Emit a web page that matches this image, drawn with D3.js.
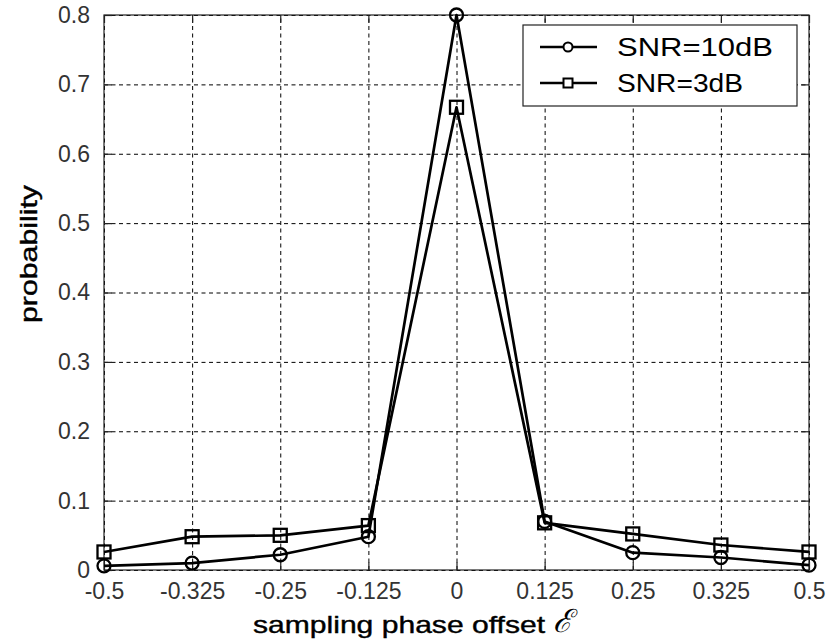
<!DOCTYPE html>
<html>
<head>
<meta charset="utf-8">
<script src="https://cdn.jsdelivr.net/npm/d3@7"></script>
<style>
  html, body { margin: 0; padding: 0; background: #fff; }
  svg { display: block; }
  text { font-family: "Liberation Sans", Arial, sans-serif; }
</style>
</head>
<body>
<svg id="chart" width="827" height="642"></svg>
<script>
// Sampling phase offsets (evenly spaced categories on the x axis)
const offsets = ["-0.5", "-0.325", "-0.25", "-0.125", "0", "0.125", "0.25", "0.325", "0.5"];
// Detection probability for each offset
const snr10 = [0.006, 0.010, 0.022, 0.048, 0.800, 0.070, 0.025, 0.018, 0.007];
const snr3  = [0.026, 0.048, 0.050, 0.064, 0.667, 0.068, 0.052, 0.036, 0.026];
const seriesNames = ["SNR=10dB", "SNR=3dB"];
const yTicks = [0, 0.1, 0.2, 0.3, 0.4, 0.5, 0.6, 0.7, 0.8];

const svg = d3.select("#chart");
const L = 104, R = 809, T = 15, B = 570;

const x = d3.scalePoint().domain(offsets).range([L, R]);
const y = d3.scaleLinear().domain([0, 0.8]).range([B, T]);

// dashed grid
const grid = svg.append("g");
grid.append("g")
  .attr("transform", `translate(0,${B})`)
  .call(d3.axisBottom(x).tickSize(-(B - T)).tickFormat(""))
  .call(g => g.select(".domain").remove())
  .call(g => g.selectAll("line").attr("stroke", "#000").attr("stroke-dasharray", "4,3.5"));
grid.append("g")
  .attr("transform", `translate(${L},0)`)
  .call(d3.axisLeft(y).tickValues(yTicks).tickSize(-(R - L)).tickFormat(""))
  .call(g => g.select(".domain").remove())
  .call(g => g.selectAll("line").attr("stroke", "#000").attr("stroke-dasharray", "4,3.5"));

// frame
svg.append("rect")
  .attr("x", L).attr("y", T).attr("width", R - L).attr("height", B - T)
  .attr("fill", "none").attr("stroke", "#222").attr("stroke-width", 1.2);

// inward ticks on all sides, labels on bottom and left
const tk = 8;
const styleAxis = g => {
  g.select(".domain").remove();
  g.selectAll("line").attr("stroke", "#222").attr("stroke-width", 1.2);
  g.selectAll("text").attr("fill", "#333").style("font-size", "23px")
    .style("font-family", "'Liberation Sans', Arial, sans-serif");
};
svg.append("g").attr("transform", `translate(0,${B})`)
  .call(d3.axisBottom(x).tickSizeInner(-tk).tickSizeOuter(0).tickPadding(13))
  .call(styleAxis);
svg.append("g").attr("transform", `translate(0,${T})`)
  .call(d3.axisTop(x).tickSizeInner(-tk).tickSizeOuter(0).tickFormat(""))
  .call(styleAxis);
svg.append("g").attr("transform", `translate(${L},0)`)
  .call(d3.axisLeft(y).tickValues(yTicks).tickSizeInner(-tk).tickSizeOuter(0).tickPadding(14)
    .tickFormat(d => d === 0 ? "0" : d3.format(".1f")(d)))
  .call(styleAxis);
svg.append("g").attr("transform", `translate(${R},0)`)
  .call(d3.axisRight(y).tickValues(yTicks).tickSizeInner(-tk).tickSizeOuter(0).tickFormat(""))
  .call(styleAxis);

// data series
const line = d3.line().x((d, i) => x(offsets[i])).y(d => y(d));
const drawSeries = (vals, shape) => {
  const g = svg.append("g");
  g.append("path").datum(vals).attr("d", line)
    .attr("fill", "none").attr("stroke", "#000").attr("stroke-width", 2.7).attr("stroke-linejoin", "round");
  if (shape === "circle") {
    g.selectAll("circle").data(vals).join("circle")
      .attr("cx", (d, i) => x(offsets[i])).attr("cy", d => y(d)).attr("r", 6.5)
      .attr("fill", "none").attr("stroke", "#000").attr("stroke-width", 2.3);
  } else {
    const s = 13;
    g.selectAll("rect").data(vals).join("rect")
      .attr("x", (d, i) => x(offsets[i]) - s / 2).attr("y", d => y(d) - s / 2)
      .attr("width", s).attr("height", s)
      .attr("fill", "none").attr("stroke", "#000").attr("stroke-width", 2.3);
  }
};
drawSeries(snr10, "circle");
drawSeries(snr3, "square");

// legend
const lg = svg.append("g");
lg.append("rect").attr("x", 523).attr("y", 25).attr("width", 274).attr("height", 81)
  .attr("fill", "#fff").attr("stroke", "#222").attr("stroke-width", 1.2);
seriesNames.forEach((name, i) => {
  const cy = 47 + i * 36;
  lg.append("line").attr("x1", 540).attr("x2", 597).attr("y1", cy).attr("y2", cy)
    .attr("stroke", "#000").attr("stroke-width", 2.6);
  if (i === 0) {
    lg.append("circle").attr("cx", 568).attr("cy", cy).attr("r", 4.5)
      .attr("fill", "#fff").attr("stroke", "#000").attr("stroke-width", 2);
  } else {
    lg.append("rect").attr("x", 563.5).attr("y", cy - 4.5).attr("width", 9).attr("height", 9)
      .attr("fill", "#fff").attr("stroke", "#000").attr("stroke-width", 2);
  }
  lg.append("text").attr("x", 617).attr("y", cy + 9)
    .attr("textLength", i === 0 ? 156 : 126).attr("lengthAdjust", "spacingAndGlyphs")
    .style("font-size", "25px").attr("fill", "#000").text(name);
});

// axis titles
svg.append("text").attr("x", 253).attr("y", 633)
  .attr("textLength", 292).attr("lengthAdjust", "spacingAndGlyphs")
  .style("font-size", "24px").attr("fill", "#000")
  .attr("stroke", "#000").attr("stroke-width", 0.4).text("sampling phase offset");
svg.append("text").attr("x", 553).attr("y", 632)
  .style("font-family", "'DejaVu Serif', serif").style("font-style", "italic")
  .style("font-size", "32px").attr("fill", "#000").text("\u2130");
svg.append("text").attr("transform", "translate(37,323) rotate(-90)")
  .attr("textLength", 138).attr("lengthAdjust", "spacingAndGlyphs")
  .style("font-size", "24px").attr("fill", "#000")
  .attr("stroke", "#000").attr("stroke-width", 0.4).text("probability");
</script>
</body>
</html>
